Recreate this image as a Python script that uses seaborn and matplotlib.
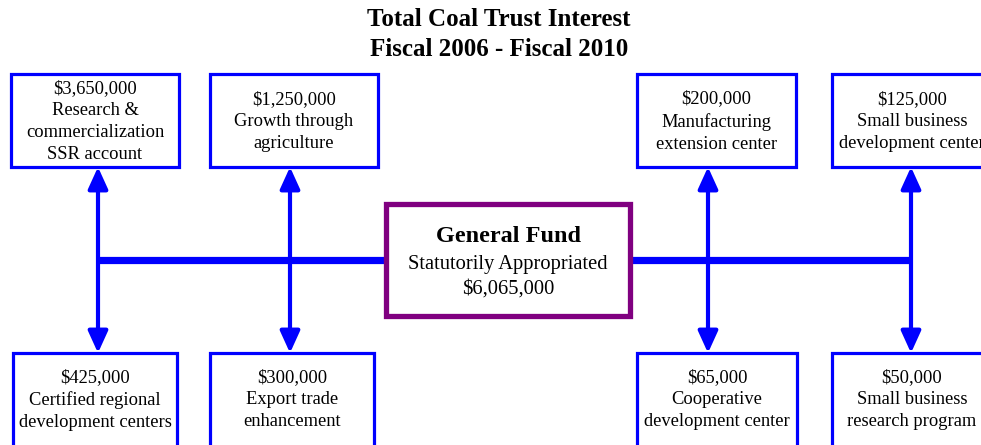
import matplotlib
matplotlib.use("Agg")
import matplotlib.pyplot as plt
import seaborn as sns
from matplotlib.patches import Rectangle

# diagram content
title_lines = ["Total Coal Trust Interest", "Fiscal 2006 - Fiscal 2010"]
center_name = "General Fund"
center_sub = "Statutorily Appropriated"
center_amount = "$6,065,000"

top_amounts = ["$3,650,000", "$1,250,000", "$200,000", "$125,000"]
top_labels = ["Research &\ncommercialization\nSSR account",
              "Growth through\nagriculture",
              "Manufacturing\nextension center",
              "Small business\ndevelopment center"]
bottom_amounts = ["$425,000", "$300,000", "$65,000", "$50,000"]
bottom_labels = ["Certified regional\ndevelopment centers",
                 "Export trade\nenhancement",
                 "Cooperative\ndevelopment center",
                 "Small business\nresearch program"]

# layout (pixel units)
top_boxes = [(11, 179), (210, 378), (637, 796), (832, 992)]
bottom_boxes = [(13, 177), (210, 374), (637, 797), (832, 992)]
arrow_x = [98, 290, 708, 911]
top_y = (74, 167)
bot_y = (353, 449)
bus_y = 260

sns.set_theme(style="white")
plt.rcParams['font.family'] = ['Liberation Serif', 'DejaVu Serif']
plt.rcParams['text.color'] = 'black'

BLUE = '#0000FF'
PURPLE = '#800080'

fig = plt.figure(figsize=(9.81, 4.45), dpi=100)
ax = fig.add_axes([0, 0, 1, 1])
ax.set_xlim(0, 981)
ax.set_ylim(445, 0)
ax.axis('off')

# title
ax.text(499, 20, title_lines[0], ha='center', va='center', fontsize=18, fontweight='bold')
ax.text(499, 49, title_lines[1], ha='center', va='center', fontsize=18, fontweight='bold')

# horizontal bus
ax.plot([arrow_x[0], arrow_x[-1]], [bus_y, bus_y], color=BLUE, lw=5.2,
        solid_capstyle='butt', zorder=1)

# vertical double arrows
for x in arrow_x:
    ax.annotate('', xy=(x, top_y[1]), xytext=(x, bot_y[0]),
                arrowprops=dict(arrowstyle='<|-|>,head_length=1.1,head_width=0.5',
                                color=BLUE, lw=3, shrinkA=0, shrinkB=0),
                zorder=2)


def draw_box(x0, x1, y0, y1, amount, label):
    ax.add_patch(Rectangle((x0, y0), x1 - x0, y1 - y0, facecolor='white',
                           edgecolor=BLUE, lw=2.3, zorder=3, clip_on=True))
    ax.text((x0 + x1) / 2, (y0 + min(y1, 445)) / 2 + 1,
            amount + "\n" + label, ha='center', va='center', fontsize=13.3,
            linespacing=1.38, zorder=4, clip_on=True)


for (x0, x1), amt, lab in zip(top_boxes, top_amounts, top_labels):
    draw_box(x0, x1, top_y[0], top_y[1], amt, lab)
for (x0, x1), amt, lab in zip(bottom_boxes, bottom_amounts, bottom_labels):
    draw_box(x0, x1, bot_y[0], bot_y[1], amt, lab)

# central box
ax.add_patch(Rectangle((386, 204), 244, 112, facecolor='white', edgecolor=PURPLE,
                       lw=3.8, zorder=3))
ax.text(508, 237, center_name, ha='center', va='center', fontsize=17.5,
        fontweight='bold', zorder=4)
ax.text(508, 264, center_sub, ha='center', va='center', fontsize=14.8, zorder=4)
ax.text(508, 289, center_amount, ha='center', va='center', fontsize=14.8, zorder=4)

fig.savefig('out.png', dpi=100)
